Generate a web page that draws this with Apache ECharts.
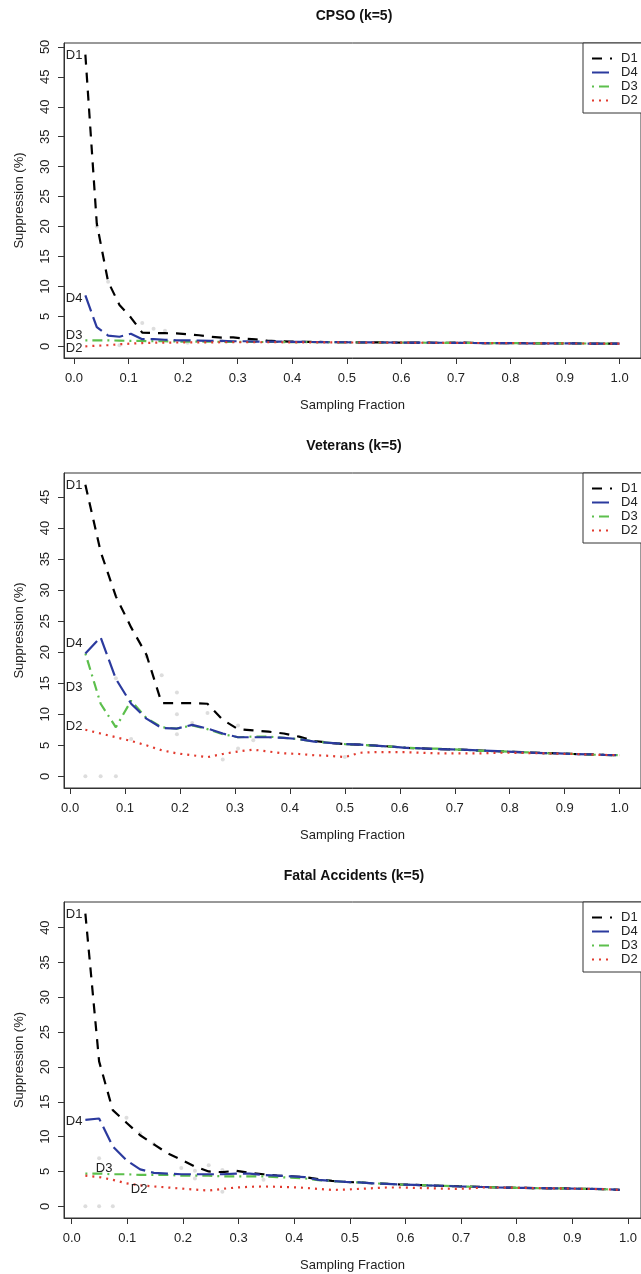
<!DOCTYPE html>
<html>
<head>
<meta charset="utf-8">
<script src="https://cdn.jsdelivr.net/npm/echarts@6/dist/echarts.min.js"></script>
<style>
  html, body { margin: 0; padding: 0; background: #fff; overflow: hidden; }
  #chart { width: 641px; height: 1274px; }
</style>
</head>
<body>
<div id="chart"></div>
<script>
// ---- data -------------------------------------------------------------
const seriesNames = ['D1', 'D4', 'D3', 'D2'];
const panelTitles = ['CPSO (k=5)', 'Veterans (k=5)', 'Fatal Accidents (k=5)'];

const xTicks = [0, 0.1, 0.2, 0.3, 0.4, 0.5, 0.6, 0.7, 0.8, 0.9, 1.0];
const cpsoYTicks = [0, 5, 10, 15, 20, 25, 30, 35, 40, 45, 50];
const vetYTicks = [0, 5, 10, 15, 20, 25, 30, 35, 40, 45];
const fatalYTicks = [0, 5, 10, 15, 20, 25, 30, 35, 40];

// CPSO
const cpsoX = [0.0208, 0.0417, 0.0625, 0.0833, 0.1042, 0.125, 0.1458, 0.1667, 0.1875, 0.2083,
  0.2292, 0.25, 0.2708, 0.2917, 0.3125, 0.3333, 0.3542, 0.375, 0.3958, 0.4167,
  0.4375, 0.4583, 0.4792, 0.5, 0.5208, 0.5417, 0.5625, 0.5833, 0.6042, 0.625,
  0.6458, 0.6667, 0.6875, 0.7083, 0.7292, 0.75, 0.7708, 0.7917, 0.8125, 0.8333,
  0.8542, 0.875, 0.8958, 0.9167, 0.9375, 0.9583, 0.9792, 1.0];
const cpsoD1 = [48.7, 20.5, 10.8, 6.9, 4.8, 2.3, 2.2, 2.2, 2.15, 2.0,
  1.85, 1.6, 1.45, 1.5, 1.3, 1.15, 0.95, 0.85, 0.8, 0.75,
  0.75, 0.72, 0.7, 0.68, 0.67, 0.66, 0.65, 0.64, 0.63, 0.62,
  0.61, 0.6, 0.6, 0.62, 0.6, 0.55, 0.54, 0.53, 0.52, 0.51,
  0.5, 0.49, 0.48, 0.48, 0.47, 0.46, 0.45, 0.45];
const cpsoD4 = [8.5, 3.2, 1.8, 1.6, 2.1, 1.2, 1.2, 1.1, 1.0, 1.0,
  0.95, 0.9, 0.9, 0.85, 0.85, 0.8, 0.8, 0.78, 0.76, 0.74,
  0.72, 0.7, 0.69, 0.68, 0.67, 0.66, 0.65, 0.64, 0.63, 0.62,
  0.61, 0.6, 0.59, 0.58, 0.56, 0.55, 0.54, 0.53, 0.52, 0.51,
  0.5, 0.49, 0.48, 0.48, 0.47, 0.46, 0.45, 0.45];
const cpsoD3 = [1.0, 1.0, 1.0, 0.95, 0.9, 0.9, 0.85, 0.85, 0.8, 0.8,
  0.8, 0.78, 0.76, 0.75, 0.74, 0.73, 0.72, 0.72, 0.71, 0.7,
  0.7, 0.69, 0.68, 0.67, 0.66, 0.65, 0.64, 0.63, 0.62, 0.61,
  0.6, 0.59, 0.58, 0.57, 0.56, 0.55, 0.54, 0.53, 0.52, 0.51,
  0.5, 0.49, 0.48, 0.48, 0.47, 0.46, 0.45, 0.45];
const cpsoD2 = [0.0, 0.1, 0.2, 0.35, 0.45, 0.55, 0.6, 0.62, 0.64, 0.65,
  0.66, 0.67, 0.68, 0.68, 0.68, 0.68, 0.68, 0.68, 0.67, 0.66,
  0.66, 0.65, 0.65, 0.64, 0.64, 0.63, 0.62, 0.62, 0.61, 0.6,
  0.6, 0.59, 0.58, 0.57, 0.56, 0.55, 0.54, 0.53, 0.52, 0.51,
  0.5, 0.49, 0.48, 0.47, 0.47, 0.46, 0.45, 0.44];
const cpsoRuns = [[0.0417, 20.0], [0.0625, 10.8], [0.125, 3.9], [0.1458, 2.95], [0.1667, 2.6],
  [0.0833, 0.2], [0.2083, 0.6], [0.2708, 0.9]];

// Veterans
const vetX = [0.0278, 0.0556, 0.0833, 0.1111, 0.1389, 0.1667, 0.1944, 0.2222, 0.25, 0.2778,
  0.3056, 0.3333, 0.3611, 0.3889, 0.4167, 0.4444, 0.4722, 0.5, 0.5278, 0.5556,
  0.5833, 0.6111, 0.6389, 0.6667, 0.6944, 0.7222, 0.75, 0.7778, 0.8056, 0.8333,
  0.8611, 0.8889, 0.9167, 0.9444, 0.9722, 1.0];
const vetD1 = [47.0, 36.2, 29.0, 24.0, 19.6, 11.8, 11.8, 11.8, 11.7, 9.1,
  7.6, 7.4, 7.2, 6.9, 6.4, 5.7, 5.4, 5.2, 5.1, 4.95,
  4.8, 4.6, 4.5, 4.4, 4.35, 4.25, 4.15, 4.05, 3.95, 3.85,
  3.75, 3.7, 3.6, 3.55, 3.45, 3.4];
const vetD4 = [19.8, 22.4, 15.7, 11.7, 9.3, 7.8, 7.7, 8.3, 7.7, 6.9,
  6.3, 6.3, 6.3, 6.2, 6.0, 5.6, 5.4, 5.2, 5.1, 4.95,
  4.8, 4.6, 4.5, 4.4, 4.35, 4.25, 4.15, 4.05, 3.95, 3.85,
  3.75, 3.7, 3.6, 3.55, 3.45, 3.4];
const vetD3 = [19.8, 11.7, 7.9, 12.2, 9.4, 7.9, 7.7, 8.2, 7.6, 6.8,
  6.3, 6.4, 6.4, 6.2, 6.0, 5.6, 5.4, 5.2, 5.1, 4.9,
  4.8, 4.6, 4.5, 4.45, 4.35, 4.25, 4.1, 4.05, 3.95, 3.85,
  3.75, 3.7, 3.6, 3.5, 3.45, 3.4];
const vetD2 = [7.5, 6.9, 6.3, 5.7, 5.0, 4.2, 3.7, 3.4, 3.1, 3.6,
  4.0, 4.3, 4.0, 3.7, 3.6, 3.4, 3.3, 3.1, 3.8, 3.9,
  3.9, 3.9, 3.8, 3.7, 3.7, 3.7, 3.7, 3.8, 3.8, 3.75,
  3.7, 3.65, 3.6, 3.5, 3.45, 3.4];
const vetRuns = [[0.0278, 0], [0.0556, 0], [0.0833, 0], [0.0833, 15.8], [0.1111, 6.0],
  [0.1389, 19.3], [0.1667, 16.3], [0.1944, 13.5], [0.1944, 10.0], [0.1944, 6.8],
  [0.2222, 8.6], [0.25, 10.2], [0.2778, 2.7], [0.3056, 8.2], [0.3056, 4.5],
  [0.3333, 5.8], [0.5, 3.1]];

// Fatal Accidents
const fatalX = [0.0246, 0.0493, 0.0739, 0.0985, 0.1231, 0.1478, 0.1724, 0.197, 0.2216, 0.2463,
  0.2709, 0.2955, 0.3201, 0.3448, 0.3694, 0.394, 0.4186, 0.4433, 0.4679, 0.4925,
  0.5171, 0.5418, 0.5664, 0.591, 0.6156, 0.6403, 0.6649, 0.6895, 0.7141, 0.7388,
  0.7634, 0.788, 0.8126, 0.8373, 0.8619, 0.8865, 0.9111, 0.9358, 0.9604, 0.985];
const fatalD1 = [42.0, 20.8, 13.8, 12.0, 10.2, 8.9, 7.6, 6.7, 5.7, 5.0,
  4.9, 5.1, 4.8, 4.6, 4.4, 4.3, 4.2, 3.9, 3.65, 3.5,
  3.42, 3.3, 3.22, 3.13, 3.07, 3.0, 2.95, 2.88, 2.82, 2.77,
  2.72, 2.68, 2.64, 2.6, 2.58, 2.56, 2.52, 2.49, 2.45, 2.35];
const fatalD4 = [12.4, 12.6, 8.6, 6.6, 5.3, 4.8, 4.7, 4.6, 4.6, 4.6,
  4.6, 4.7, 4.7, 4.5, 4.4, 4.3, 4.2, 3.8, 3.65, 3.5,
  3.42, 3.3, 3.22, 3.13, 3.07, 3.0, 2.95, 2.88, 2.82, 2.77,
  2.72, 2.68, 2.64, 2.6, 2.58, 2.56, 2.52, 2.49, 2.45, 2.35];
const fatalD3 = [4.7, 4.7, 4.6, 4.6, 4.5, 4.5, 4.5, 4.4, 4.4, 4.4,
  4.3, 4.3, 4.3, 4.3, 4.2, 4.1, 4.0, 3.75, 3.65, 3.5,
  3.42, 3.3, 3.22, 3.13, 3.07, 3.0, 2.95, 2.88, 2.82, 2.77,
  2.72, 2.68, 2.64, 2.6, 2.58, 2.56, 2.52, 2.49, 2.45, 2.35];
const fatalD2 = [4.4, 4.2, 3.8, 3.3, 3.0, 2.85, 2.7, 2.55, 2.4, 2.25,
  2.5, 2.7, 2.8, 2.85, 2.8, 2.75, 2.65, 2.5, 2.35, 2.4,
  2.5, 2.6, 2.7, 2.7, 2.65, 2.6, 2.55, 2.5, 2.55, 2.7,
  2.7, 2.68, 2.64, 2.6, 2.58, 2.56, 2.52, 2.49, 2.45, 2.35];
const fatalRuns = [[0.0246, 0], [0.0493, 0], [0.0739, 0], [0.0493, 6.9], [0.0985, 12.7],
  [0.1231, 10.5], [0.1478, 8.9], [0.197, 5.5], [0.2216, 5.1], [0.2216, 4.0],
  [0.2463, 5.9], [0.2709, 5.2], [0.2709, 2.1], [0.3448, 3.8]];

// ---- styling ----------------------------------------------------------
const FONT = '"Liberation Sans", Arial, Helvetica, sans-serif';
const INK = '#222';
const FRAME = '#333';

const lineLook = {
  D1: { color: '#000000', type: [10, 8] },
  D4: { color: '#2b3a9e', type: [17, 6] },
  D3: { color: '#5cbf4c', type: [2, 5, 10, 5] },
  D2: { color: '#e23a2e', type: [2, 5] }
};
// drawing order (last one on top)
const drawOrder = ['D1', 'D3', 'D4', 'D2'];

const panels = [
  { title: panelTitles[0], x: cpsoX, y: { D1: cpsoD1, D4: cpsoD4, D3: cpsoD3, D2: cpsoD2 },
    runs: cpsoRuns, yTicks: cpsoYTicks, top: 43, height: 315, titleTop: 9,
    tags: {
      D1: { i: 0, position: 'left', distance: 3, offset: [0, 1] },
      D4: { i: 0, position: 'left', distance: 3, offset: [0, 3] },
      D3: { i: 0, position: 'left', distance: 3, offset: [0, -5] },
      D2: { i: 0, position: 'left', distance: 3, offset: [0, 2] }
    } },
  { title: panelTitles[1], x: vetX, y: { D1: vetD1, D4: vetD4, D3: vetD3, D2: vetD2 },
    runs: vetRuns, yTicks: vetYTicks, top: 473, height: 315, titleTop: 439,
    tags: {
      D1: { i: 0, position: 'left', distance: 3, offset: [0, 1] },
      D4: { i: 0, position: 'left', distance: 3, offset: [0, -10] },
      D3: { i: 0, position: 'left', distance: 3, offset: [0, 34] },
      D2: { i: 0, position: 'left', distance: 3, offset: [0, -3] }
    } },
  { title: panelTitles[2], x: fatalX, y: { D1: fatalD1, D4: fatalD4, D3: fatalD3, D2: fatalD2 },
    runs: fatalRuns, yTicks: fatalYTicks, top: 902, height: 316, titleTop: 869,
    tags: {
      D1: { i: 0, position: 'left', distance: 3, offset: [0, 1] },
      D4: { i: 0, position: 'left', distance: 3, offset: [0, 2] },
      D3: { i: 1, position: 'top', distance: 0, offset: [5, 1] },
      D2: { i: 4, position: 'bottom', distance: 0, offset: [-1, -2] }
    } }
];

// R-style axis range: data range widened by 4% on each side
function padded(lo, hi) {
  const d = (hi - lo) * 0.04;
  return [lo - d, hi + d];
}

const grids = [], xAxes = [], yAxes = [], titles = [], legends = [], series = [];

panels.forEach((p, k) => {
  const allY = seriesNames.reduce((acc, n) => acc.concat(p.y[n]), []);
  const xr = padded(Math.min(...p.x), Math.max(...p.x));
  const yr = padded(Math.min(0, ...allY), Math.max(...allY));

  grids.push({ left: 64, top: p.top, width: 580, height: p.height,
    show: true, borderColor: FRAME, borderWidth: 1, backgroundColor: 'transparent' });

  titles.push({ text: p.title, left: 354, top: p.titleTop, textAlign: 'center', padding: 0,
    textStyle: { fontFamily: FONT, fontSize: 14, fontWeight: 'bold', color: '#111' } });

  xAxes.push({
    gridIndex: k, type: 'value', min: xr[0], max: xr[1],
    axisLine: { show: true, onZero: false, lineStyle: { color: FRAME, width: 1 } },
    axisTick: { show: true, customValues: xTicks, length: 6, lineStyle: { color: FRAME, width: 1 } },
    axisLabel: { customValues: xTicks, formatter: v => v.toFixed(1), margin: 14,
      fontFamily: FONT, fontSize: 13, color: INK },
    splitLine: { show: false },
    name: 'Sampling Fraction', nameLocation: 'middle', nameGap: 41,
    nameTextStyle: { fontFamily: FONT, fontSize: 13, color: INK }
  });

  yAxes.push({
    gridIndex: k, type: 'value', min: yr[0], max: yr[1],
    axisLine: { show: true, onZero: false, lineStyle: { color: FRAME, width: 1 } },
    axisTick: { show: true, customValues: p.yTicks, length: 6, lineStyle: { color: FRAME, width: 1 } },
    axisLabel: { customValues: p.yTicks, rotate: 90, margin: 12,
      fontFamily: FONT, fontSize: 13, color: INK },
    splitLine: { show: false },
    name: 'Suppression (%)', nameLocation: 'middle', nameGap: 38,
    nameTextStyle: { fontFamily: FONT, fontSize: 13, color: INK }
  });

  legends.push({
    data: seriesNames, orient: 'vertical', left: 583, top: p.top,
    padding: [9, 10, 6, 8], itemWidth: 20, itemHeight: 13, itemGap: 1,
    borderColor: FRAME, borderWidth: 1, borderRadius: 0, backgroundColor: '#fff',
    selectedMode: false,
    itemStyle: { opacity: 0 },
    textStyle: { fontFamily: FONT, fontSize: 13, color: INK, padding: [0, 0, 0, 4] }
  });

  // faint individual-run markers
  series.push({
    type: 'scatter', name: 'runs', xAxisIndex: k, yAxisIndex: k, silent: true, z: 1,
    symbol: 'circle', symbolSize: 4, itemStyle: { color: '#d4d4d4' },
    data: p.runs
  });

  drawOrder.forEach((name, j) => {
    const tag = p.tags[name];
    const data = p.x.map((x, i) => {
      const item = { value: [x, p.y[name][i]] };
      if (i === tag.i) {
        item.label = { show: true, formatter: name, position: tag.position,
          distance: tag.distance, offset: tag.offset,
          fontFamily: FONT, fontSize: 13, color: INK };
      }
      return item;
    });
    series.push({
      type: 'line', name, xAxisIndex: k, yAxisIndex: k, silent: true, z: 2 + j,
      data, symbol: 'circle', symbolSize: 0, showSymbol: true,
      lineStyle: { color: lineLook[name].color, width: 2.2, type: lineLook[name].type },
      itemStyle: { color: lineLook[name].color },
      label: { show: false }
    });
  });
});

const chart = echarts.init(document.getElementById('chart'), null, { renderer: 'canvas' });
chart.setOption({
  backgroundColor: '#fff',
  animation: false,
  textStyle: { fontFamily: FONT },
  title: titles,
  grid: grids,
  xAxis: xAxes,
  yAxis: yAxes,
  legend: legends,
  series
});
</script>
</body>
</html>
